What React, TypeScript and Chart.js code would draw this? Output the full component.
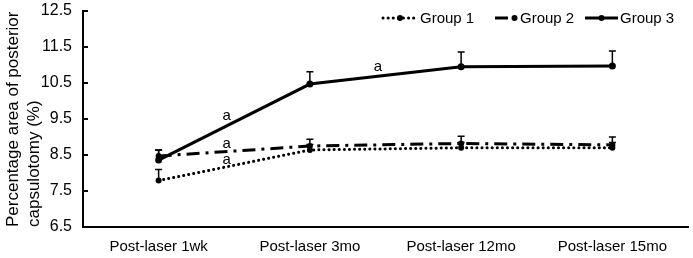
import { useEffect, useRef } from "react";
import { Chart, registerables } from "chart.js";

Chart.register(...registerables);

const categories = ["Post-laser 1wk", "Post-laser 3mo", "Post-laser 12mo", "Post-laser 15mo"];
const seriesNames = ["Group 1", "Group 2", "Group 3"];
const group1 = [7.79, 8.64, 8.7, 8.7];
const group1Err = [0.31, 0.15, 0.15, 0.15];
const group2 = [8.47, 8.75, 8.82, 8.78];
const group2Err = [0.17, 0.19, 0.2, 0.22];
const group3 = [8.36, 10.47, 10.95, 10.97];
const group3Err = [0.28, 0.34, 0.41, 0.42];
const yTicks = [6.5, 7.5, 8.5, 9.5, 10.5, 11.5, 12.5];
const yTitle = ["Percentage area of posterior", "capsulotomy (%)"];
// annotation letters: [fractional category index, value]
const annoText = ["a", "a", "a", "a"];
const annoX = [0.45, 1.45, 0.45, 0.45];
const annoY = [9.58, 10.96, 8.8, 8.36];

const FONT = "'Liberation Sans', Arial, sans-serif";

const dashes: number[][] = [[0.1, 5], [13, 6, 3, 6], []];
const caps: CanvasLineCap[] = ["round", "butt", "butt"];

const extrasPlugin = {
  id: "extras",
  afterDatasetsDraw(chart: any) {
    const ctx = chart.ctx as CanvasRenderingContext2D;
    const x = chart.scales.x;
    const y = chart.scales.y;
    const area = chart.chartArea;
    ctx.save();
    // inward tick marks on y axis
    ctx.strokeStyle = "#000";
    ctx.lineWidth = 2;
    yTicks.forEach((v) => {
      const py = y.getPixelForValue(v);
      ctx.beginPath();
      ctx.moveTo(area.left, py);
      ctx.lineTo(area.left + 5, py);
      ctx.stroke();
    });
    // error bars (upward)
    const errs = [group1Err, group2Err, group3Err];
    const vals = [group1, group2, group3];
    ctx.lineWidth = 1.5;
    vals.forEach((arr, si) => {
      arr.forEach((v, i) => {
        const px = x.getPixelForValue(i);
        const py0 = y.getPixelForValue(v);
        const py1 = y.getPixelForValue(v + errs[si][i]);
        ctx.beginPath();
        ctx.moveTo(px, py0);
        ctx.lineTo(px, py1);
        ctx.moveTo(px - 3.5, py1);
        ctx.lineTo(px + 3.5, py1);
        ctx.stroke();
      });
    });
    // annotations
    ctx.fillStyle = "#000";
    ctx.font = `15px ${FONT}`;
    ctx.textAlign = "center";
    ctx.textBaseline = "middle";
    annoText.forEach((t, i) => {
      const base = Math.floor(annoX[i]);
      const frac = annoX[i] - base;
      const p0 = x.getPixelForValue(base);
      const p1 = x.getPixelForValue(base + 1);
      const px = p0 + (p1 - p0) * frac;
      ctx.fillText(t, px, y.getPixelForValue(annoY[i]));
    });
    // legend
    const legendY = 18;
    const samples = [
      { x0: 383, x1: 417, tx: 420 },
      { x0: 495, x1: 518, tx: 520 },
      { x0: 585, x1: 618, tx: 620 },
    ];
    ctx.font = `15px ${FONT}`;
    ctx.textAlign = "left";
    samples.forEach((s, i) => {
      ctx.save();
      ctx.lineWidth = 3;
      ctx.lineCap = caps[i];
      ctx.setLineDash(dashes[i]);
      ctx.beginPath();
      ctx.moveTo(s.x0, legendY);
      ctx.lineTo(s.x1, legendY);
      ctx.stroke();
      ctx.restore();
      ctx.beginPath();
      ctx.arc((s.x0 + s.x1) / 2 + (i === 1 ? 8 : 0), legendY, 3, 0, Math.PI * 2);
      ctx.fill();
      ctx.fillText(seriesNames[i], s.tx, legendY + 1);
    });
    ctx.restore();
  },
};

export default function App() {
  const ref = useRef<HTMLCanvasElement>(null);
  useEffect(() => {
    if (!ref.current) return;
    const mk = (label: string, data: number[], i: number, r: number) => ({
      label,
      data,
      borderColor: "#000",
      backgroundColor: "#000",
      borderWidth: 3,
      borderDash: dashes[i],
      borderCapStyle: caps[i],
      pointRadius: r,
      pointBackgroundColor: "#000",
      pointBorderWidth: 0,
      tension: 0,
      fill: false,
    });
    const chart = new Chart(ref.current, {
      type: "line",
      data: {
        labels: categories,
        datasets: [
          mk(seriesNames[0], group1, 0, 3),
          mk(seriesNames[1], group2, 1, 3),
          mk(seriesNames[2], group3, 2, 3.5),
        ],
      },
      options: {
        animation: false,
        responsive: false,
        devicePixelRatio: 1,
        layout: { padding: { top: 11, right: 5, left: 0, bottom: 0 } },
        plugins: { legend: { display: false }, tooltip: { enabled: false } },
        scales: {
          x: {
            offset: true,
            grid: { display: false, drawTicks: false },
            border: { display: true, color: "#000", width: 2 },
            ticks: { color: "#000", font: { family: FONT, size: 15 }, padding: 11, maxRotation: 0, autoSkip: false },
            afterFit: (s: any) => { s.height = 31; s.paddingLeft = 0; s.paddingRight = 0; },
          },
          y: {
            min: 6.5,
            max: 12.5,
            afterBuildTicks: (s: any) => { s.ticks = yTicks.map((v) => ({ value: v })); },
            grid: { display: false, drawTicks: false },
            border: { display: true, color: "#000", width: 2 },
            ticks: { color: "#000", font: { family: FONT, size: 16 }, padding: 11, callback: (v: any) => Number(v).toFixed(1) },
            title: { display: true, text: yTitle, align: "start", color: "#000", font: { family: FONT, size: 17, lineHeight: 1.24 }, padding: { top: 3, bottom: 0 } },
            afterFit: (s: any) => { s.width = 83; s.paddingTop = 0; s.paddingBottom = 0; },
          },
        },
      },
      plugins: [extrasPlugin],
    });
    return () => chart.destroy();
  }, []);
  return (
    <div style={{ position: "absolute", left: 0, top: 0, width: 693, height: 258, background: "#fff" }}>
      <canvas ref={ref} width={693} height={258} />
    </div>
  );
}
